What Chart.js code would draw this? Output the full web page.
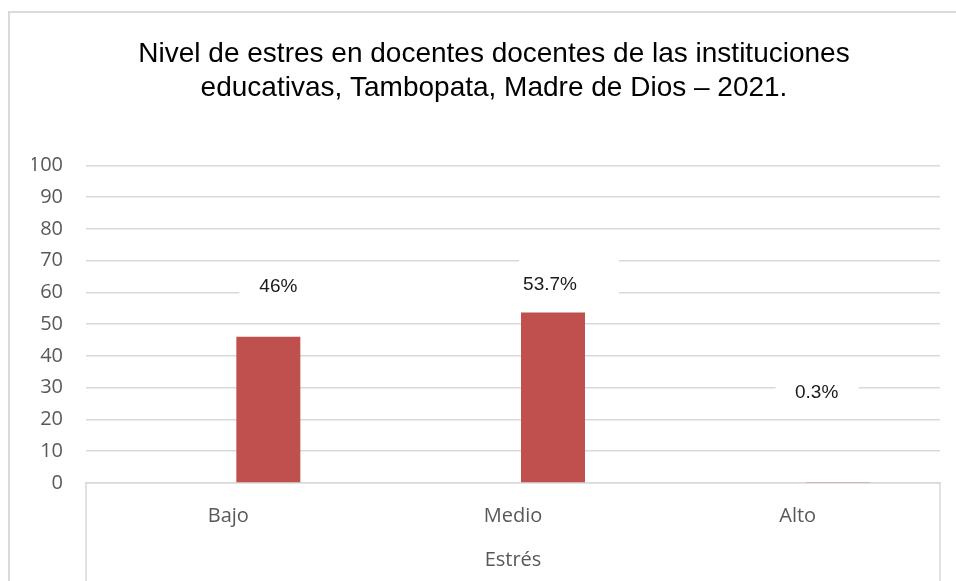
<!DOCTYPE html>
<html lang="es">
  <head>
    <meta charset="UTF-8" />
    <title>Nivel de estres</title>
    <script src="https://cdn.jsdelivr.net/npm/chart.js"></script>
    <style>
      html, body {
        margin: 0;
        padding: 0;
        background: #fff;
        overflow: hidden;
      }
      #wrap {
        position: relative;
        width: 956px;
        height: 581px;
        overflow: hidden;
      }
      #frame {
        position: absolute;
        left: 8px;
        top: 11px;
        width: 1100px;
        height: 800px;
        border: 2px solid #d9d9d9;
      }
      canvas {
        position: absolute;
        left: 0;
        top: 0;
      }
    </style>
  </head>
  <body>
    <div id="wrap">
      <div id="frame"></div>
      <canvas id="chart" width="956" height="581"></canvas>
    </div>
    <script>
      const categories = ["Bajo", "Medio", "Alto"];
      const placeholder = [null, null, null]; // empty series that takes the left slot
      const estres = [46, 53.7, 0.3];
      const valueLabels = ["46%", "53.7%", "0.3%"];
      const yTicks = [0, 10, 20, 30, 40, 50, 60, 70, 80, 90, 100];

      // label placement relative to bar top: [dx, dy]
      const labelShift = [[10, -50], [-3, -28], [-21, -89]];
      // white label boxes relative to label centre: [left, right, top, bottom]
      const labelBoxes = [[-39, 241, -17, 18], [-31, 69, -29, 16], [-41, 42, -20, 17]];

      const grey = "#d9d9d9";

      const labelPlugin = {
        id: "valueLabels",
        afterDatasetsDraw(chart) {
          const ctx = chart.ctx;
          const meta = chart.getDatasetMeta(1);
          ctx.save();
          meta.data.forEach((bar, i) => {
            const cx = bar.x + labelShift[i][0];
            const cy = bar.y + labelShift[i][1];
            const b = labelBoxes[i];
            ctx.fillStyle = "#fff";
            ctx.fillRect(cx + b[0], cy + b[2], b[1] - b[0], b[3] - b[2]);
            ctx.fillStyle = "#1a1a1a";
            ctx.font = "19px 'Liberation Sans', Arial, sans-serif";
            ctx.textAlign = "center";
            ctx.textBaseline = "middle";
            ctx.fillText(valueLabels[i], cx, cy);
          });
          ctx.restore();
        },
      };

      const sideLines = {
        id: "sideLines",
        afterDraw(chart) {
          const { ctx, chartArea } = chart;
          ctx.save();
          ctx.strokeStyle = grey;
          ctx.lineWidth = 1.5;
          ctx.beginPath();
          [chartArea.left, chartArea.right].forEach((x) => {
            ctx.moveTo(x, chartArea.bottom);
            ctx.lineTo(x, chart.height);
          });
          ctx.stroke();
          ctx.restore();
        },
      };

      new Chart(document.getElementById("chart"), {
        type: "bar",
        data: {
          labels: categories,
          datasets: [
            {
              label: "",
              data: placeholder,
              backgroundColor: "#c0504d",
            },
            {
              label: "Estrés",
              data: estres,
              backgroundColor: "#c0504d",
            },
          ],
        },
        options: {
          responsive: false,
          animation: false,
          categoryPercentage: 0.562,
          barPercentage: 0.8,
          layout: { padding: { top: 0, left: 32, right: 0, bottom: 0 } },
          plugins: {
            legend: { display: false },
            tooltip: { enabled: false },
            title: {
              display: true,
              text: [
                "Nivel de estres en docentes docentes de las instituciones",
                "educativas, Tambopata, Madre de Dios – 2021.",
              ],
              color: "#000",
              font: { family: "'Liberation Sans', Arial, sans-serif", size: 28, weight: "normal", lineHeight: 1.22 },
              padding: { top: 37, bottom: 60 },
            },
          },
          scales: {
            x: {
              grid: { display: false, drawTicks: false },
              border: { display: true, color: grey, width: 1.5 },
              ticks: {
                color: "#595959",
                padding: 21,
                font: { family: "'Open Sans', sans-serif", size: 20 },
              },
              title: {
                display: true,
                text: "Estrés",
                color: "#595959",
                font: { family: "'Open Sans', sans-serif", size: 20 },
                padding: { top: 0, bottom: 9 },
              },
              afterFit: (s) => {
                s.height = 98;
              },
            },
            y: {
              min: 0,
              max: 100,
              afterBuildTicks: (s) => {
                s.ticks = yTicks.map((v) => ({ value: v }));
              },
              grid: { color: grey, lineWidth: 1.5, drawTicks: false },
              border: { display: false },
              ticks: {
                color: "#595959",
                padding: 23,
                font: { family: "'Open Sans', sans-serif", size: 20 },
              },
              afterFit: (s) => {
                s.width = 54;
              },
            },
            // empty right axis, only keeps a 16px margin on the right
            yRight: {
              position: "right",
              display: true,
              grid: { display: false, drawTicks: false },
              border: { display: false },
              ticks: { display: false },
              afterFit: (s) => {
                s.width = 16;
              },
            },
          },
        },
        plugins: [labelPlugin, sideLines],
      });
    </script>
  </body>
</html>
